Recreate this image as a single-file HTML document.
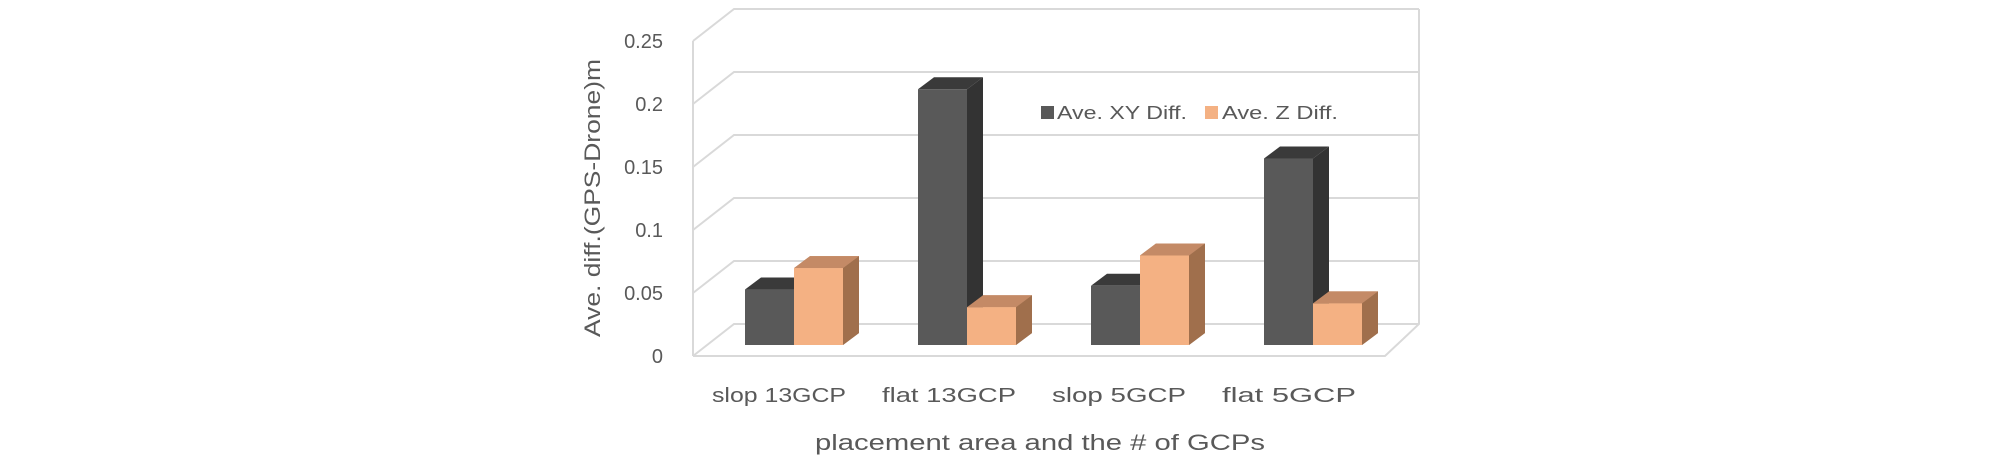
<!DOCTYPE html>
<html><head><meta charset="utf-8"><style>
html,body{margin:0;padding:0;background:#fff;}
svg{display:block;}
text{font-family:"Liberation Sans",sans-serif;fill:#595959;}
</style></head><body>
<svg id="chart" width="2008" height="463" viewBox="0 0 2008 463" xmlns="http://www.w3.org/2000/svg">
<g id="grid"></g>
<g id="yticks"></g>
<g id="bars"></g>
<g id="xlabels"></g>
<text x="0" y="0" font-size="22" text-anchor="middle" transform="translate(600,198) rotate(-90)" textLength="278" lengthAdjust="spacingAndGlyphs">Ave. diff.(GPS-Drone)m</text>
<text x="1040" y="450" font-size="22" text-anchor="middle" textLength="450" lengthAdjust="spacingAndGlyphs">placement area and the # of GCPs</text>
<g>
<rect x="1041" y="106" width="13" height="13" fill="#595959"/>
<text x="1057" y="119" font-size="18" textLength="130" lengthAdjust="spacingAndGlyphs">Ave. XY Diff.</text>
<rect x="1205" y="106" width="13" height="13" fill="#f4b183"/>
<text x="1222" y="119" font-size="18" textLength="116" lengthAdjust="spacingAndGlyphs">Ave. Z Diff.</text>
</g>
</svg>
<script>
const categories = ["slop 13GCP","flat 13GCP","slop 5GCP","flat 5GCP"];
const xyValues = [0.044, 0.203, 0.047, 0.148];
const zValues = [0.061, 0.030, 0.071, 0.033];
const tickValues = [0, 0.05, 0.1, 0.15, 0.2, 0.25];
const tickLabels = ["0","0.05","0.1","0.15","0.2","0.25"];

const NS = "http://www.w3.org/2000/svg";
function mk(tag, attrs, parent){const e=document.createElementNS(NS,tag);for(const k in attrs)e.setAttribute(k,attrs[k]);parent.appendChild(e);return e;}
// axis geometry
const gridY0 = 356, gridStep = 63/0.05; // front-left y for value
const gy = v => gridY0 - v*gridStep;
const barY0 = 345;
const by = v => barY0 - v*gridStep;
const leftF = 693, leftB = 734, rightF = 1385, rightB = 1419, dy = 32;
const catX = i => 745 + i*173;  // left of first bar in group
const barW = 49, dX = 16, dY = 12;

const grid = document.getElementById('grid');
tickValues.forEach((v,i)=>{
  const y = gy(v);
  const p = mk('polyline',{points:`${leftF},${y} ${leftB},${y-dy} ${rightB},${y-dy}`,fill:'none',stroke:'#d9d9d9','stroke-width':2},grid);
  
  
});
const walls = mk('path',{d:`M${leftF},${gy(0)} L${leftF},${gy(0.25)} M${leftF},${gy(0)} L${rightF},${gy(0)} L${rightB},${gy(0)-dy} L${rightB},${gy(0.25)-dy} M${leftB},${gy(0.25)-dy} L${leftB},${gy(0.25)-dy-0}`,fill:'none',stroke:'#d9d9d9','stroke-width':2},grid);



const yt = document.getElementById('yticks');
tickValues.forEach((v,i)=>{
  const t = mk('text',{x:663,y:gy(v)+7,'font-size':20,'text-anchor':'end'},yt);
  t.textContent = tickLabels[i];
  
  
});

const bars = document.getElementById('bars');
function bar(x, v, front, top, side, name){
  const g = mk('g',{},bars);
  
  
  const yT = by(v), yB = barY0;
  mk('polygon',{points:`${x},${yT} ${x+dX},${yT-dY} ${x+barW+dX},${yT-dY} ${x+barW},${yT}`,fill:top},g);
  mk('polygon',{points:`${x+barW},${yT} ${x+barW+dX},${yT-dY} ${x+barW+dX},${yB-dY} ${x+barW},${yB}`,fill:side},g);
  mk('rect',{x:x,y:yT,width:barW,height:yB-yT,fill:front},g);
}
categories.forEach((c,i)=>{
  const x = catX(i);
  bar(x+barW, zValues[i], '#f4b183', '#c48a66', '#a06f4c', 'bar-z-'+i);
  bar(x, xyValues[i], '#595959', '#3a3a3a', '#333333', 'bar-xy-'+i);
});
// redraw orange over dark side (orange is in front-right, dark side hidden behind orange)
categories.forEach((c,i)=>{
  const x = catX(i);
  bar(x+barW, zValues[i], '#f4b183', '#c48a66', '#a06f4c', 'bar-z-front-'+i);
});

const xl = document.getElementById('xlabels');
categories.forEach((c,i)=>{
  const t = mk('text',{x:779+i*170,y:402,'font-size':20,'text-anchor':'middle',textLength:134,lengthAdjust:'spacingAndGlyphs'},xl);
  t.textContent = c;
  
  
});
</script>
</body></html>
